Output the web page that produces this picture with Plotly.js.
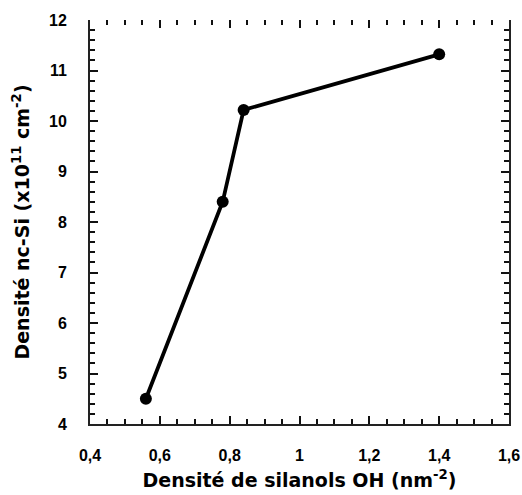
<!DOCTYPE html>
<html>
<head>
<meta charset="utf-8">
<script src="https://cdn.plot.ly/plotly-3.0.1.min.js"></script>
<style>html,body{margin:0;padding:0;background:#fff;}#chart{width:522px;height:495px;}</style>
</head>
<body>
<div id="chart"></div>
<script>
const silanolDensity = [0.56, 0.78, 0.84, 1.4];
const ncSiDensity = [4.5, 8.4, 10.22, 11.32];
const xTickVals = [0.4, 0.6, 0.8, 1.0, 1.2, 1.4, 1.6];
const xTickText = ['0,4', '0,6', '0,8', '1', '1,2', '1,4', '1,6'];
const yTickVals = [4, 5, 6, 7, 8, 9, 10, 11, 12];
const yTickText = ['4', '5', '6', '7', '8', '9', '10', '11', '12'];
const xTitle = 'Densité de silanols OH (nm<sup>-2</sup>)';
const yTitle = 'Densité nc-Si (x10<sup>11</sup> cm<sup>-2</sup>)';

const tickFam = 'Liberation Sans, Arial, sans-serif';
const titleFam = 'DejaVu Sans, sans-serif';
const tickFont = {family: tickFam, size: 16, color: '#000', weight: 700};
const titleFont = {family: titleFam, size: 19, color: '#000', weight: 700};

const trace = {
  x: silanolDensity, y: ncSiDensity, type: 'scatter', mode: 'lines+markers',
  line: {color: '#000', width: 3.8},
  marker: {color: '#000', size: 12},
  showlegend: false
};
const dummy = {x: [0.4], y: [4], xaxis: 'x2', yaxis: 'y', mode: 'markers', marker: {opacity: 0}, showlegend: false, hoverinfo: 'skip'};

const tickStyle = {ticks: 'inside', ticklen: 8, tickwidth: 2, tickcolor: '#111'};
const minorStyle = {ticks: 'inside', ticklen: 5, tickwidth: 2, tickcolor: '#111', showgrid: false};

const layout = {
  width: 522, height: 495,
  margin: {l: 90, r: 13, t: 20, b: 71},
  paper_bgcolor: '#fff', plot_bgcolor: '#fff',
  font: {family: tickFam, color: '#000'},
  xaxis: Object.assign({
    range: [0.4, 1.6], tickmode: 'array', tickvals: xTickVals, ticktext: xTickText,
    showline: true, linecolor: '#222', linewidth: 2, showgrid: false, zeroline: false,
    tickfont: tickFont, ticklabelstandoff: 16,
    minor: Object.assign({dtick: 0.05, tick0: 0.4}, minorStyle),
    title: {text: xTitle, font: titleFont, standoff: 10}
  }, tickStyle),
  xaxis2: Object.assign({
    overlaying: 'x', side: 'top', matches: 'x', range: [0.4, 1.6],
    tickmode: 'array', tickvals: xTickVals, showticklabels: false,
    showline: false, showgrid: false, zeroline: false,
    minor: Object.assign({dtick: 0.05, tick0: 0.4}, minorStyle)
  }, tickStyle),
  yaxis: Object.assign({
    range: [4, 12], tickmode: 'array', tickvals: yTickVals, ticktext: yTickText,
    showline: true, linecolor: '#222', linewidth: 2, mirror: 'ticks', showgrid: false, zeroline: false,
    tickfont: tickFont, ticklabelstandoff: 18,
    minor: Object.assign({dtick: 0.2, tick0: 4}, minorStyle),
    title: {text: yTitle, font: titleFont, standoff: 14}
  }, tickStyle)
};

Plotly.newPlot('chart', [trace, dummy], layout, {displayModeBar: false, staticPlot: true});
</script>
</body>
</html>
